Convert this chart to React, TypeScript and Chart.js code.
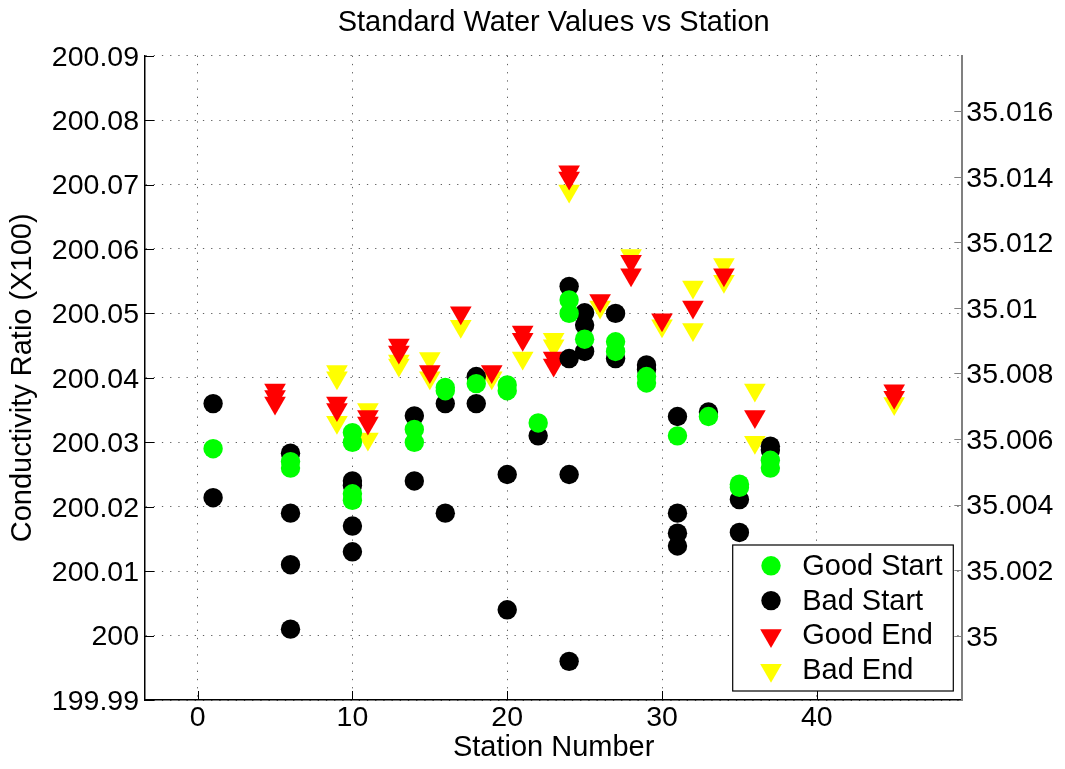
import React, { useEffect, useRef } from 'react';
import { Chart, registerables } from 'chart.js';

Chart.register(...registerables);

const FONT = '"Liberation Sans", Arial, Helvetica, sans-serif';

const chartTitle = 'Standard Water Values vs Station';
const xAxisTitle = 'Station Number';
const yAxisTitle = 'Conductivity Ratio (X100)';

const xMin = -3.4;
const xMax = 49.4;
const yMin = 199.99;
const yMax = 200.09;
const y2Min = 34.99804;
const y2Max = 35.01769;

const xTickValues = [0, 10, 20, 30, 40];
const yTickLabels = ['199.99', '200', '200.01', '200.02', '200.03', '200.04', '200.05', '200.06', '200.07', '200.08', '200.09'];
const y2TickLabels = ['35', '35.002', '35.004', '35.006', '35.008', '35.01', '35.012', '35.014', '35.016'];

const seriesNames = ['Good Start', 'Bad Start', 'Good End', 'Bad End'];

const goodStartStation = [1, 6, 6, 10, 10, 10, 10, 14, 14, 16, 16, 18, 20, 20, 22, 24, 24, 25, 27, 27, 29, 29, 31, 33, 35, 35, 37, 37];
const goodStartValue = [200.029, 200.027, 200.026, 200.0315, 200.030, 200.022, 200.021, 200.032, 200.030, 200.0385, 200.038, 200.0391, 200.0389, 200.038, 200.033, 200.0521, 200.050, 200.046, 200.0456, 200.0441, 200.0402, 200.0392, 200.031, 200.034, 200.0235, 200.023, 200.0272, 200.026];

const badStartStation = [1, 1, 6, 6, 6, 6, 10, 10, 10, 10, 14, 14, 16, 16, 18, 18, 20, 20, 22, 24, 24, 24, 24, 25, 25, 25, 27, 27, 29, 29, 31, 31, 31, 31, 33, 35, 35, 37, 37];
const badStartValue = [200.036, 200.0214, 200.0283, 200.019, 200.011, 200.001, 200.024, 200.0233, 200.017, 200.013, 200.0341, 200.024, 200.036, 200.019, 200.0402, 200.036, 200.025, 200.004, 200.031, 200.0542, 200.043, 200.025, 199.996, 200.0501, 200.0482, 200.0441, 200.050, 200.043, 200.042, 200.0413, 200.034, 200.019, 200.0159, 200.0139, 200.0347, 200.0211, 200.016, 200.0294, 200.0288];

const goodEndStation = [5, 5, 5, 9, 9, 11, 11, 13, 13, 15, 17, 19, 21, 21, 23, 23, 24, 24, 26, 28, 28, 30, 32, 34, 36, 45, 45];
const goodEndValue = [200.0381, 200.0371, 200.0361, 200.0361, 200.0351, 200.034, 200.033, 200.0451, 200.044, 200.041, 200.0501, 200.041, 200.0471, 200.046, 200.0431, 200.042, 200.072, 200.071, 200.052, 200.0581, 200.056, 200.049, 200.051, 200.056, 200.034, 200.038, 200.037];

const badEndStation = [9, 9, 9, 11, 11, 13, 13, 15, 15, 17, 19, 21, 23, 23, 24, 26, 28, 30, 32, 32, 34, 34, 36, 36, 45];
const badEndValue = [200.041, 200.040, 200.0331, 200.0351, 200.0305, 200.0426, 200.042, 200.043, 200.040, 200.048, 200.040, 200.0431, 200.046, 200.045, 200.069, 200.051, 200.059, 200.0481, 200.0541, 200.0475, 200.0576, 200.055, 200.0381, 200.030, 200.036];

const toPoints = (xs: number[], ys: number[]) => xs.map((x, i) => ({ x, y: ys[i] }));

const overlay = {
  id: 'overlay',
  afterDraw(chart: any) {
    const { ctx, chartArea: a, scales } = chart;
    ctx.save();
    // inward tick marks
    ctx.lineWidth = 1;
    ctx.strokeStyle = '#000';
    ctx.beginPath();
    for (const t of scales.y.ticks) {
      const p = Math.round(scales.y.getPixelForValue(t.value)) + 0.5;
      ctx.moveTo(a.left, p);
      ctx.lineTo(a.left + 9, p);
    }
    for (const t of scales.x.ticks) {
      const p = Math.round(scales.x.getPixelForValue(t.value)) + 0.5;
      ctx.moveTo(p, a.bottom);
      ctx.lineTo(p, a.bottom - 9);
    }
    ctx.stroke();
    ctx.strokeStyle = '#808080';
    ctx.beginPath();
    for (const t of scales.y2.ticks) {
      const p = Math.round(scales.y2.getPixelForValue(t.value)) + 0.5;
      ctx.moveTo(a.right, p);
      ctx.lineTo(a.right - 8, p);
    }
    ctx.stroke();

    // title centred over the plot area
    ctx.fillStyle = '#000';
    ctx.font = `29px ${FONT}`;
    ctx.textAlign = 'center';
    ctx.textBaseline = 'middle';
    ctx.fillText(chartTitle, (a.left + a.right) / 2, 23);

    // legend box in the lower-right corner of the plot area
    const w = 220.6;
    const h = 146;
    const lx = a.right - 9 - w;
    const ly = a.bottom - 9 - h;
    ctx.fillStyle = '#fff';
    ctx.fillRect(lx, ly, w, h);
    ctx.strokeStyle = '#000';
    ctx.lineWidth = 1.2;
    ctx.strokeRect(lx, ly, w, h);
    chart.data.datasets.forEach((ds: any, i: number) => {
      const cy = ly + 20.8 + i * 34.8;
      const cx = lx + 38.3;
      const r = ds.pointRadius;
      ctx.fillStyle = ds.pointBackgroundColor;
      ctx.beginPath();
      if (ds.pointStyle === 'circle') {
        ctx.arc(cx, cy, r, 0, Math.PI * 2);
      } else {
        ctx.moveTo(cx, cy + r);
        ctx.lineTo(cx - 0.866 * r, cy - r / 2);
        ctx.lineTo(cx + 0.866 * r, cy - r / 2);
        ctx.closePath();
      }
      ctx.fill();
      ctx.fillStyle = '#000';
      ctx.textAlign = 'left';
      ctx.textBaseline = 'middle';
      ctx.fillText(ds.label, lx + 69.5, cy + 1);
    });
    ctx.restore();
  },
};

export default function App() {
  const ref = useRef<HTMLCanvasElement>(null);

  useEffect(() => {
    if (!ref.current) return;
    const tickFont = { family: FONT, size: 28.5 };
    const labelFont = { family: FONT, size: 29 };
    const gridColor = 'rgba(0,0,0,0.62)';

    const circle = (label: string, color: string, xs: number[], ys: number[]) => ({
      label,
      data: toPoints(xs, ys),
      pointStyle: 'circle',
      pointRadius: 9.7,
      pointHoverRadius: 9.7,
      pointBorderWidth: 0,
      pointBackgroundColor: color,
      pointBorderColor: color,
      backgroundColor: color,
      borderColor: color,
      yAxisID: 'y',
    });
    const triangle = (label: string, color: string, xs: number[], ys: number[]) => ({
      label,
      data: toPoints(xs, ys),
      pointStyle: 'triangle',
      pointRotation: 180,
      pointRadius: 12.5,
      pointHoverRadius: 12.5,
      pointBorderWidth: 0,
      pointBackgroundColor: color,
      pointBorderColor: color,
      backgroundColor: color,
      borderColor: color,
      yAxisID: 'y',
    });

    const chart = new Chart(ref.current, {
      type: 'scatter',
      data: {
        datasets: [
          circle(seriesNames[0], '#00ff00', goodStartStation, goodStartValue),
          circle(seriesNames[1], '#000000', badStartStation, badStartValue),
          triangle(seriesNames[2], '#ff0000', goodEndStation, goodEndValue),
          triangle(seriesNames[3], '#ffff00', badEndStation, badEndValue),
        ] as any,
      },
      options: {
        animation: false,
        responsive: false,
        devicePixelRatio: 1,
        events: [],
        layout: { padding: { top: 55.7, left: 0, right: 0, bottom: 0 } },
        plugins: {
          legend: { display: false },
          title: { display: false },
          tooltip: { enabled: false },
        },
        scales: {
          x: {
            type: 'linear',
            position: 'bottom',
            min: xMin,
            max: xMax,
            afterBuildTicks: (s: any) => {
              s.ticks = xTickValues.map((v) => ({ value: v }));
            },
            afterFit: (s: any) => {
              s.height = 69;
            },
            ticks: {
              font: tickFont,
              color: '#000',
              padding: 1,
              maxRotation: 0,
              autoSkip: false,
              callback: (v: any) => String(v),
            },
            grid: { color: gridColor, lineWidth: 1, drawTicks: false },
            border: { display: true, color: '#000', width: 1.5, dash: [1.3, 6.9] },
            title: {
              display: true,
              text: xAxisTitle,
              font: labelFont,
              color: '#000',
              padding: { top: 0, bottom: 4 },
            },
          },
          y: {
            type: 'linear',
            position: 'left',
            min: yMin,
            max: yMax,
            afterBuildTicks: (s: any) => {
              s.ticks = yTickLabels.map((l) => ({ value: parseFloat(l) }));
            },
            afterFit: (s: any) => {
              s.width = 145;
            },
            ticks: {
              font: tickFont,
              color: '#000',
              padding: 6,
              labelOffset: 2,
              autoSkip: false,
              callback: (_v: any, i: number) => yTickLabels[i],
            },
            grid: { color: gridColor, lineWidth: 1, drawTicks: false },
            border: { display: true, color: '#000', width: 1.5, dash: [1.3, 6.9] },
            title: {
              display: true,
              text: yAxisTitle,
              font: labelFont,
              color: '#000',
              padding: { top: 6, bottom: 0 },
            },
          },
          y2: {
            type: 'linear',
            position: 'right',
            min: y2Min,
            max: y2Max,
            afterBuildTicks: (s: any) => {
              s.ticks = y2TickLabels.map((l) => ({ value: parseFloat(l) }));
            },
            afterFit: (s: any) => {
              s.width = 102.7;
            },
            ticks: {
              font: tickFont,
              color: '#000',
              padding: 4,
              labelOffset: 2,
              autoSkip: false,
              callback: (_v: any, i: number) => y2TickLabels[i],
            },
            grid: { drawOnChartArea: false, drawTicks: false },
            border: { display: true, color: '#808080', width: 2 },
          },
        },
      } as any,
      plugins: [overlay],
    });
    return () => chart.destroy();
  }, []);

  return (
    <div style={{ position: 'absolute', left: 0, top: 0, width: 1065, height: 769, background: '#fff' }}>
      <canvas ref={ref} width={1065} height={769} style={{ display: 'block' }} />
    </div>
  );
}
